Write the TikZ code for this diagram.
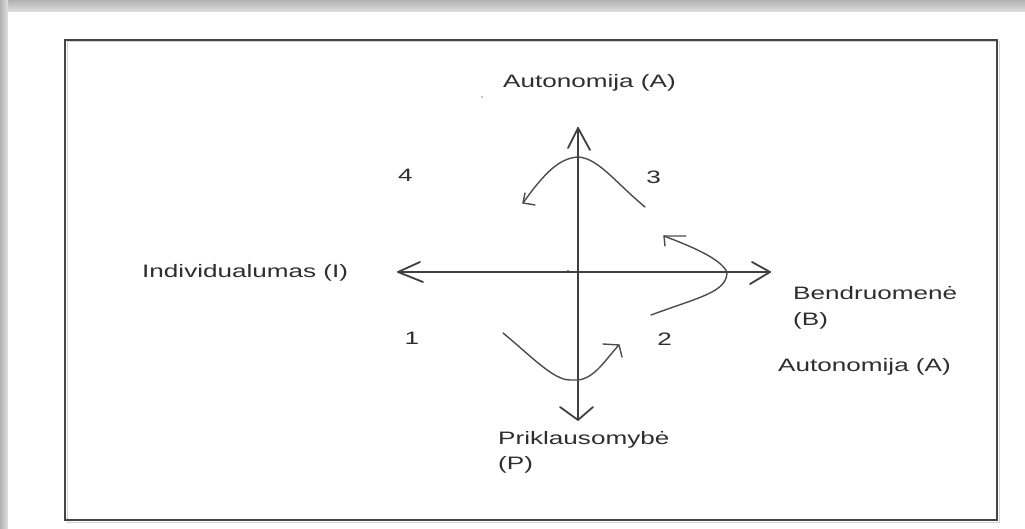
\documentclass[tikz,border=0pt]{standalone}
\usepackage{fontspec}
\setmainfont{Liberation Sans}
\usepackage{graphicx}
\definecolor{axcol}{gray}{0.25}
\definecolor{cvcol}{gray}{0.30}
\definecolor{txtcol}{gray}{0.18}
\definecolor{boxcol}{gray}{0.27}
\newcommand\wx[1]{\scalebox{1.45}[1]{#1}}
\begin{document}
\begin{tikzpicture}[x=1pt,y=-1pt,
  ax/.style={draw=axcol, line width=1.8pt, line cap=round, line join=round},
  cv/.style={draw=cvcol, line width=1.4pt, line cap=round, line join=round},
  lbl/.style={text=txtcol, font=\fontsize{18}{25}\selectfont, inner sep=0pt, anchor=base west},
  num/.style={text=txtcol, font=\fontsize{18}{25}\selectfont, inner sep=0pt, anchor=base}
]
\useasboundingbox (0,0) rectangle (1025,529);
% page shadow
\shade[top color=gray!60, bottom color=gray!25] (0,0) rectangle (1025,12);
\shade[left color=gray!60, right color=gray!25] (0,0) rectangle (8,529);
\fill[white] (8,12) rectangle (1025,529);
% frame
\draw[gray!35, line width=1pt] (67,42) rectangle (999,522);
\draw[boxcol, line width=2.5pt] (65,40) rectangle (997,520);

% axes
\coordinate (vt) at (578,128);
\coordinate (vb) at (578,420);
\coordinate (hl) at (398,272);
\coordinate (hr) at (770,272);
\draw[ax] (vb) -- (vt);
\draw[ax] (hl) -- (hr);
\draw[ax] (vt) ++(-10,20) -- (vt) -- ++(12,22);
\draw[ax] (vb) ++(-18,-13) -- (vb) -- ++(15,-13);
\draw[ax] (hl) ++(22,-10) -- (hl) -- ++(25,10);
\draw[ax] (hr) ++(-18,-10) -- (hr) -- ++(-20,12);

% curves
\coordinate (c1s) at (645,207);
\coordinate (c1e) at (523,203);
\draw[cv] (c1s) .. controls (615,182) and (598,158) .. (578,157)
  .. controls (560,158) and (545,172) .. (c1e);
\draw[cv] (c1e) ++(2,-10) -- (c1e) -- ++(12,2);

\coordinate (c2s) at (651,315);
\coordinate (c2e) at (664,236);
\draw[cv] (c2s) .. controls (700,297) and (727,292) .. (727,272)
  .. controls (720,258) and (690,246) .. (c2e);
\draw[cv] (c2e) ++(22,0) -- (c2e) -- ++(1,10);

\coordinate (c3s) at (503,333);
\coordinate (c3e) at (619,345);
\draw[cv] (c3s) .. controls (530,355) and (553,380) .. (570,380) -- (578,380)
  .. controls (595,378) and (605,360) .. (c3e);
\draw[cv] (c3e) ++(-16,-1) -- (c3e) -- ++(3,12);

% small dots
\fill[cvcol] (568,271) circle (1.2);
\fill[gray!60] (482,97) circle (1.2);

% labels
\node[lbl] (autA) at (503,88) {\wx{Autonomija (A)}};
\node[lbl] (indI) at (142,278) {\wx{Individualumas (I)}};
\node[lbl] (bend) at (793,300) {\wx{Bendruomenė}};
\node[lbl] (bendB) at (793,325) {\wx{(B)}};
\node[lbl] (autA2) at (778,371) {\wx{Autonomija (A)}};
\node[lbl] (prik) at (498,444) {\wx{Priklausomybė}};
\node[lbl] (prikP) at (498,469) {\wx{(P)}};
\node[num] (n4) at (405.5,182) {\wx{4}};
\node[num] (n3) at (653.5,184) {\wx{3}};
\node[num] (n1) at (412,344) {\wx{1}};
\node[num] (n2) at (664.5,345) {\wx{2}};
\end{tikzpicture}
\end{document}
